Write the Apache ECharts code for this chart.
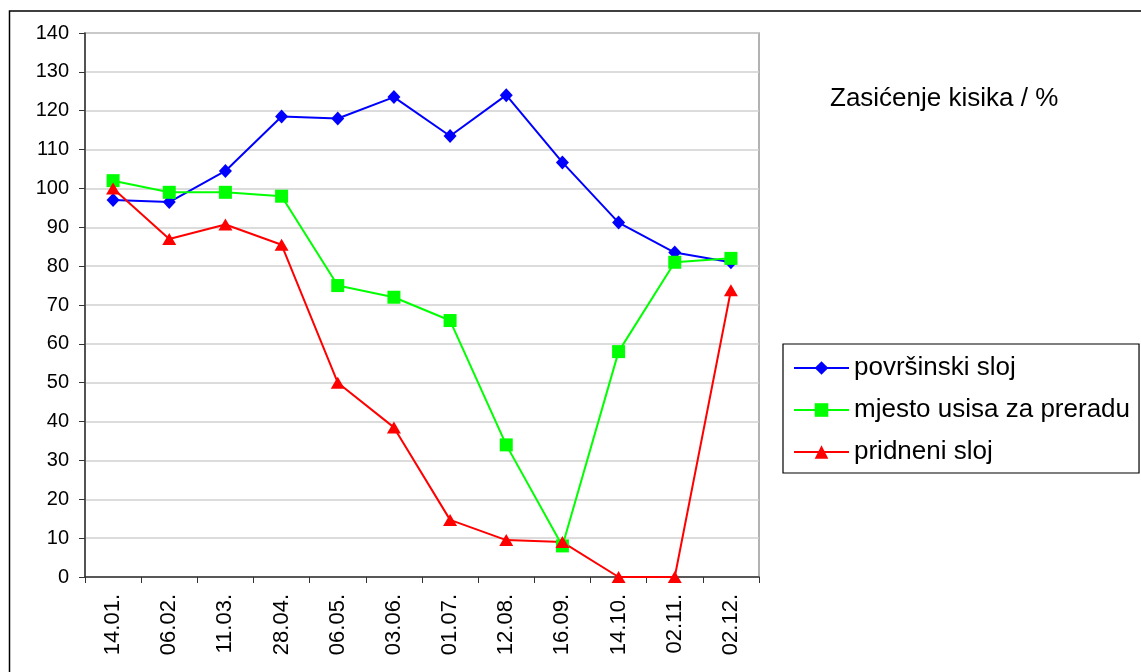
<!DOCTYPE html>
<html>
<head>
<meta charset="utf-8">
<script src="https://cdn.jsdelivr.net/npm/echarts@6/dist/echarts.min.js"></script>
<style>html,body{margin:0;padding:0;background:#fff}#c{width:1141px;height:672px}</style>
</head>
<body>
<div id="c"></div>
<script>
const categories = ['14.01.','06.02.','11.03.','28.04.','06.05.','03.06.','01.07.','12.08.','16.09.','14.10.','02.11.','02.12.'];
const povrsinskiSloj = [97, 96.5, 104.5, 118.5, 118, 123.5, 113.5, 124, 106.7, 91.2, 83.5, 81];
const mjestoUsisa = [102, 99, 99, 98, 75, 72, 66, 34, 8, 58, 81, 82];
const pridneniSloj = [100, 87, 90.7, 85.5, 50, 38.5, 14.7, 9.5, 9, 0, 0, 73.8];
const seriesNames = ['površinski sloj', 'mjesto usisa za preradu', 'pridneni sloj'];
const titleText = 'Zasićenje kisika / %';

const FONT = '"Liberation Sans", Arial, sans-serif';
const chart = echarts.init(document.getElementById('c'), null, {renderer: 'canvas'});
chart.setOption({
  animation: false,
  backgroundColor: '#fff',
  title: {
    text: titleText, left: 830, top: 86, padding: 0,
    textStyle: {fontFamily: FONT, fontSize: 26, fontWeight: 'normal', color: '#000'}
  },
  legend: {
    orient: 'vertical', left: 783, top: 344,
    itemWidth: 55, itemHeight: 17, itemGap: 16,
    padding: [11, 9, 8, 10],
    borderColor: '#000', borderWidth: 1.2,
    textStyle: {fontFamily: FONT, fontSize: 26, color: '#000'},
    data: seriesNames
  },
  grid: {left: 85, right: 382, top: 33, bottom: 95, show: true, borderColor: '#999', borderWidth: 1.5, containLabel: false},
  xAxis: {
    type: 'category', data: categories, boundaryGap: true,
    axisLine: {lineStyle: {color: '#333', width: 1.5}},
    axisTick: {show: true, interval: 0, length: 6, lineStyle: {color: '#333'}},
    axisLabel: {interval: 0, rotate: 90, margin: 17, fontFamily: FONT, fontSize: 22, color: '#000'},
    splitLine: {show: false}
  },
  yAxis: {
    type: 'value', min: 0, max: 140, interval: 10,
    axisLine: {show: true, lineStyle: {color: '#333', width: 1.5}},
    axisTick: {show: true, length: 6, lineStyle: {color: '#333'}},
    axisLabel: {margin: 16, fontFamily: FONT, fontSize: 20, color: '#000'},
    splitLine: {show: true, lineStyle: {color: '#d0d0d0', width: 1.5}}
  },
  graphic: [{
    type: 'rect', silent: true, z: 100,
    shape: {x: 9.5, y: 11, width: 1200, height: 700},
    style: {fill: 'none', stroke: '#000', lineWidth: 1.5}
  }],
  series: [
    {name: seriesNames[0], type: 'line', data: povrsinskiSloj, symbol: 'diamond', symbolSize: [13, 14],
     lineStyle: {color: '#0000ff', width: 2}, itemStyle: {color: '#0000ff'}},
    {name: seriesNames[1], type: 'line', data: mjestoUsisa, symbol: 'rect', symbolSize: 13,
     lineStyle: {color: '#00ff00', width: 2}, itemStyle: {color: '#00ff00'}},
    {name: seriesNames[2], type: 'line', data: pridneniSloj, symbol: 'triangle', symbolSize: [14, 12],
     lineStyle: {color: '#ff0000', width: 2}, itemStyle: {color: '#ff0000'}}
  ]
});
</script>
</body>
</html>
